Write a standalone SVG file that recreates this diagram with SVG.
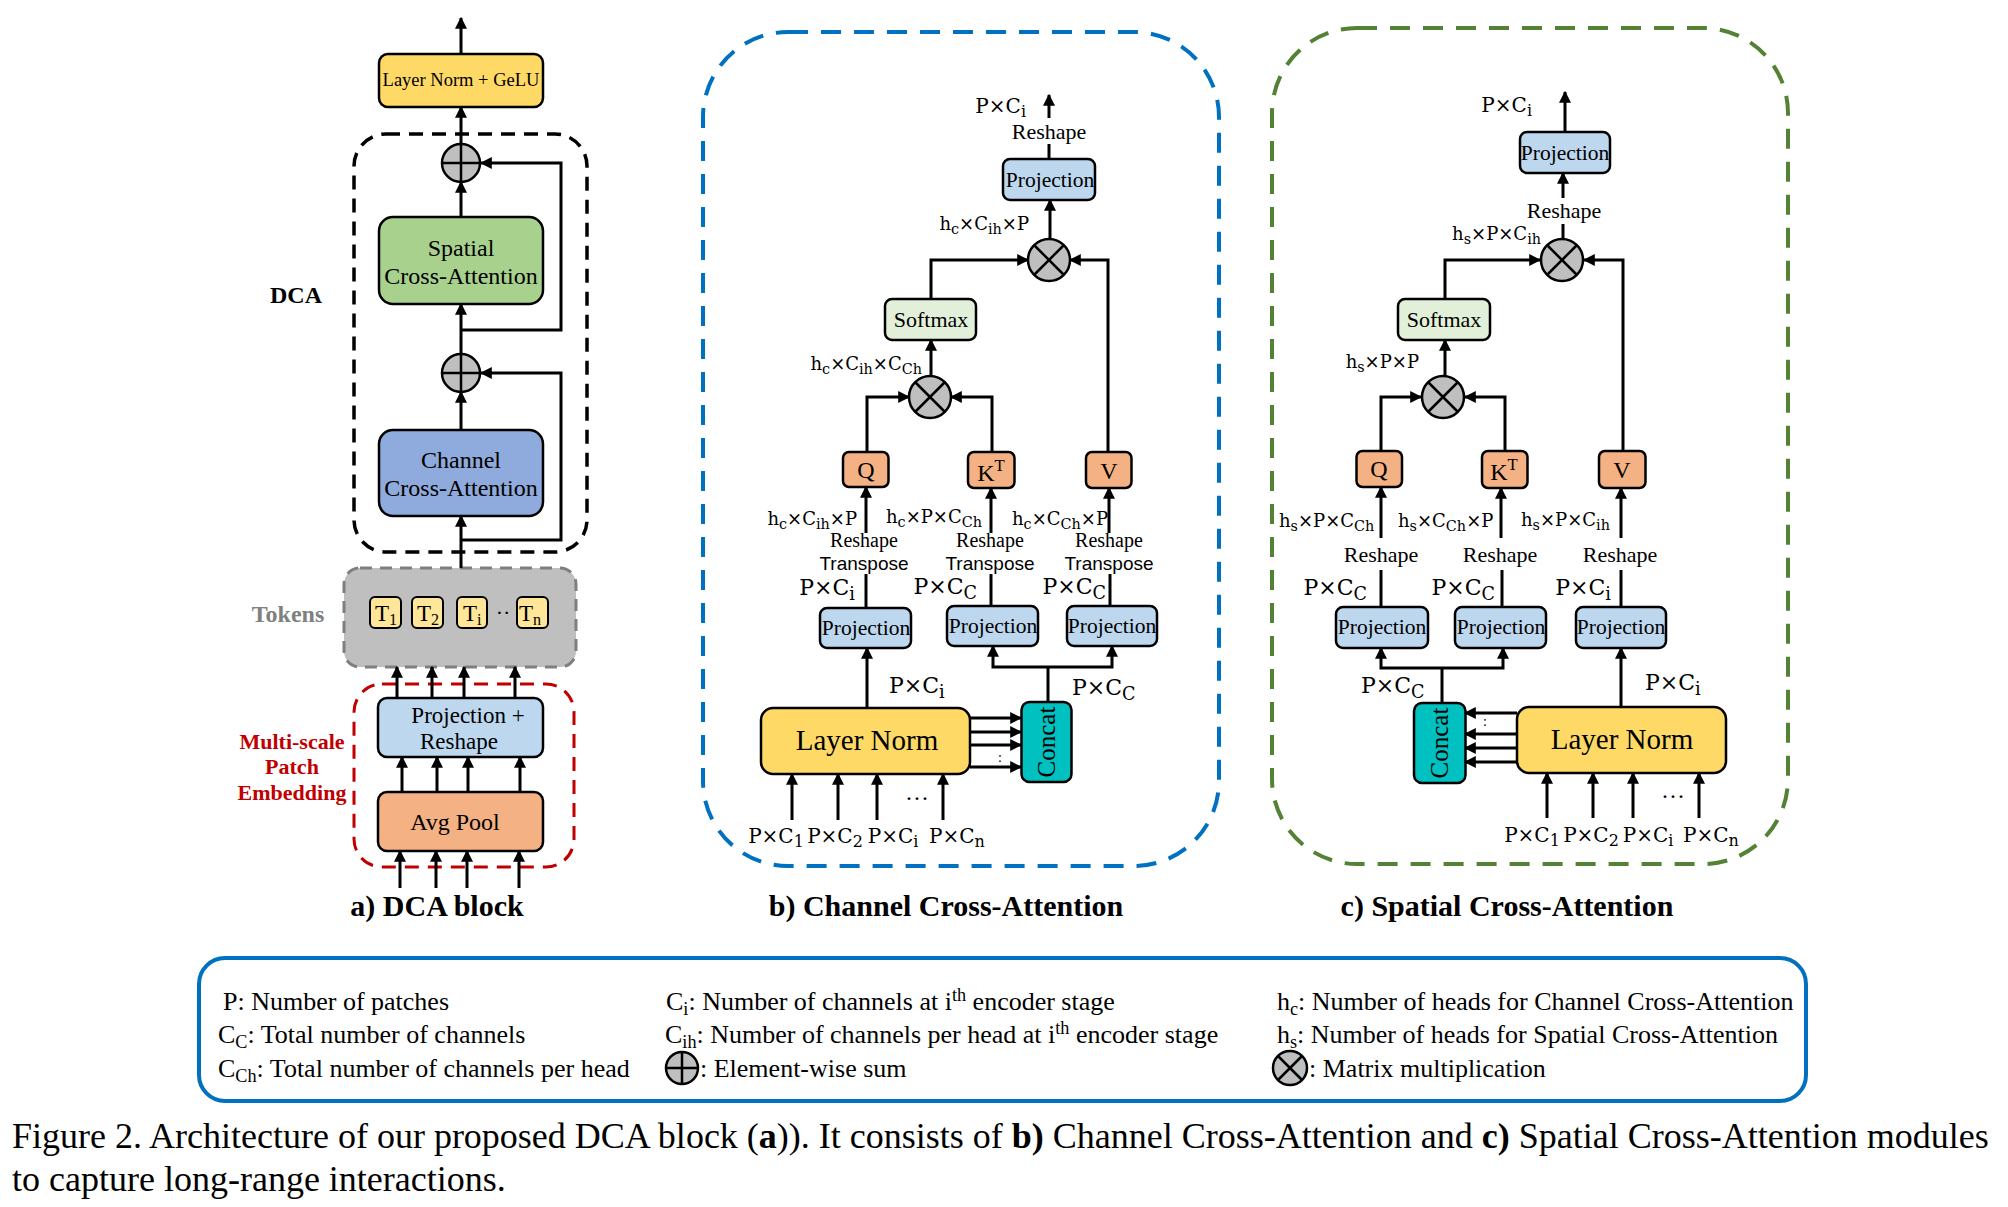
<svg xmlns="http://www.w3.org/2000/svg" width="2008" height="1207" viewBox="0 0 2008 1207">
<defs>
<marker id="ah" viewBox="0 0 10 10" refX="9" refY="5" markerWidth="12" markerHeight="12" markerUnits="userSpaceOnUse" orient="auto">
<path d="M0,0 L10,5 L0,10 z" fill="#000"/>
</marker>
<style>
.t{font-family:"Liberation Serif","Times New Roman",serif;fill:#000}
.m{font-family:"DejaVu Serif","Liberation Serif",serif;fill:#000}
.sans{font-family:"Liberation Sans",Arial,sans-serif;fill:#000}
.b{font-weight:bold}
.box{stroke:#000;stroke-width:2.5}
.ln{fill:#FFD966}
.proj{fill:#BDD7EE}
.org{fill:#F4B183}
.soft{fill:#E2F0D9}
.cat{fill:#00C0C0}
.tok{fill:#FFE699;stroke:#000;stroke-width:2}
.c{fill:none;stroke:#000;stroke-width:3}
.a{fill:none;stroke:#000;stroke-width:3;marker-end:url(#ah)}
.op{fill:#BFBFBF;stroke:#000;stroke-width:2.5}
.opl{stroke:#000;stroke-width:2.5}
.s{font-size:70%}
.ms{font-size:80%}
</style>
</defs>
<rect width="2008" height="1207" fill="#fff"/>

<!-- ===== Panel a ===== -->
<g id="dca-frame"><rect x="354" y="134" width="233" height="418" rx="32" fill="none" stroke="#000" stroke-width="3.5" stroke-dasharray="14 9"/></g>
<g id="dca-label"><text class="t b" x="296" y="303" font-size="24" text-anchor="middle">DCA</text></g>
<g id="ln-gelu"><rect class="box ln" x="379" y="54" width="164" height="53" rx="9"/><text class="t" x="461" y="86" font-size="18.5" text-anchor="middle">Layer Norm + GeLU</text></g>
<g id="sum1"><circle class="op" cx="461" cy="163" r="19"/><line class="opl" x1="442" y1="163" x2="480" y2="163"/><line class="opl" x1="461" y1="144" x2="461" y2="182"/></g>
<g id="spatial-ca"><rect class="box" fill="#A9D18E" x="379" y="217" width="164" height="87" rx="14"/><text class="t" x="461" y="256" font-size="24" text-anchor="middle">Spatial</text><text class="t" x="461" y="284" font-size="24" text-anchor="middle">Cross-Attention</text></g>
<g id="sum2"><circle class="op" cx="461" cy="373" r="19"/><line class="opl" x1="442" y1="373" x2="480" y2="373"/><line class="opl" x1="461" y1="354" x2="461" y2="392"/></g>
<g id="channel-ca"><rect class="box" fill="#8FAADC" x="379" y="430" width="164" height="86" rx="14"/><text class="t" x="461" y="468" font-size="24" text-anchor="middle">Channel</text><text class="t" x="461" y="496" font-size="24" text-anchor="middle">Cross-Attention</text></g>
<g id="tokens"><rect x="344" y="568" width="232" height="99" rx="16" fill="#BFBFBF" stroke="#7F7F7F" stroke-width="3" stroke-dasharray="12 8"/>
<text class="t b" x="288" y="622" font-size="24" text-anchor="middle" style="fill:#808080">Tokens</text>
<rect class="tok" x="370" y="597" width="31" height="31" rx="5"/><text class="t" x="375" y="621" font-size="23">T<tspan class="s" dy="4">1</tspan></text>
<rect class="tok" x="412" y="597" width="31" height="31" rx="5"/><text class="t" x="417" y="621" font-size="23">T<tspan class="s" dy="4">2</tspan></text>
<rect class="tok" x="457" y="597" width="30" height="31" rx="5"/><text class="t" x="463" y="621" font-size="23">T<tspan class="s" dy="4">i</tspan></text>
<text class="t" x="503" y="620" font-size="22" text-anchor="middle">··</text>
<rect class="tok" x="517" y="597" width="31" height="31" rx="5"/><text class="t" x="519" y="621" font-size="23">T<tspan class="s" dy="4">n</tspan></text></g>
<g id="mspe-frame"><rect x="354" y="684" width="220" height="183" rx="28" fill="none" stroke="#C00000" stroke-width="3" stroke-dasharray="14 9"/>
<text class="t b" x="292" y="749" font-size="22" text-anchor="middle" style="fill:#C00000">Multi-scale</text>
<text class="t b" x="292" y="774" font-size="22" text-anchor="middle" style="fill:#C00000">Patch</text>
<text class="t b" x="292" y="800" font-size="22" text-anchor="middle" style="fill:#C00000">Embedding</text></g>
<g id="proj-reshape"><rect class="box proj" x="378" y="698" width="165" height="59" rx="9"/><text class="t" x="468" y="723" font-size="23" text-anchor="middle">Projection +</text><text class="t" x="459" y="749" font-size="23" text-anchor="middle">Reshape</text></g>
<g id="avgpool"><rect class="box org" x="378" y="792" width="165" height="59" rx="9"/><text class="t" x="455" y="830" font-size="24" text-anchor="middle">Avg Pool</text></g>
<text class="t b" x="437" y="916" font-size="30" text-anchor="middle">a) DCA block</text>

<!-- ===== Panel b ===== -->
<g id="cca-frame"><rect x="703" y="32" width="516" height="834" rx="85" fill="none" stroke="#0070C0" stroke-width="4" stroke-dasharray="20 13"/></g>
<g id="b-proj-out"><rect class="box proj" x="1003" y="159" width="92" height="41" rx="7"/><text class="t" x="1050" y="187" font-size="21.5" text-anchor="middle">Projection</text></g>
<g id="b-mult1"><circle class="op" cx="1049" cy="260" r="21"/><line class="opl" x1="1034" y1="245" x2="1064" y2="275"/><line class="opl" x1="1064" y1="245" x2="1034" y2="275"/></g>
<g id="b-softmax"><rect class="box soft" x="885" y="299" width="91" height="41" rx="7"/><text class="t" x="931" y="327" font-size="22" text-anchor="middle">Softmax</text></g>
<g id="b-mult2"><circle class="op" cx="930" cy="397" r="21"/><line class="opl" x1="915" y1="382" x2="945" y2="412"/><line class="opl" x1="945" y1="382" x2="915" y2="412"/></g>
<g id="b-q"><rect class="box org" x="843" y="452" width="45.5" height="35" rx="6"/><text class="t" x="866" y="478" font-size="24" text-anchor="middle">Q</text></g>
<g id="b-k"><rect class="box org" x="968" y="452" width="46.5" height="36" rx="6"/><text class="t" x="991" y="481" font-size="24" text-anchor="middle">K<tspan class="s" dy="-10">T</tspan></text></g>
<g id="b-v"><rect class="box org" x="1086" y="452" width="45.5" height="36" rx="6"/><text class="t" x="1109" y="479" font-size="24" text-anchor="middle">V</text></g>
<g id="b-proj-q"><rect class="box proj" x="820" y="608" width="91" height="40" rx="7"/><text class="t" x="866" y="635" font-size="21.5" text-anchor="middle">Projection</text></g>
<g id="b-proj-k"><rect class="box proj" x="947" y="606" width="91" height="40" rx="7"/><text class="t" x="993" y="633" font-size="21.5" text-anchor="middle">Projection</text></g>
<g id="b-proj-v"><rect class="box proj" x="1067" y="606" width="90" height="40" rx="7"/><text class="t" x="1112" y="633" font-size="21.5" text-anchor="middle">Projection</text></g>
<g id="b-layernorm"><rect class="box ln" x="761" y="708" width="209" height="66" rx="12"/><text class="t" x="867" y="750" font-size="29" text-anchor="middle">Layer Norm</text></g>
<g id="b-concat"><rect class="box cat" x="1021.5" y="702" width="50" height="80" rx="8"/><text class="t" transform="translate(1055,742) rotate(-90)" font-size="25" text-anchor="middle">Concat</text></g>
<g id="b-labels">
<text class="m" x="1026" y="113" font-size="20" text-anchor="end">P×C<tspan class="ms" dy="4">i</tspan></text>
<text class="t" x="1049" y="139" font-size="22" text-anchor="middle">Reshape</text>
<text class="m" x="1029" y="230" font-size="18" text-anchor="end">h<tspan class="ms" dy="4">c</tspan><tspan dy="-4">×C</tspan><tspan class="ms" dy="4">ih</tspan><tspan dy="-4">×P</tspan></text>
<text class="m" x="922" y="370" font-size="18" text-anchor="end">h<tspan class="ms" dy="4">c</tspan><tspan dy="-4">×C</tspan><tspan class="ms" dy="4">ih</tspan><tspan dy="-4">×C</tspan><tspan class="ms" dy="4">Ch</tspan></text>
<text class="m" x="857" y="525" font-size="18" text-anchor="end">h<tspan class="ms" dy="4">c</tspan><tspan dy="-4">×C</tspan><tspan class="ms" dy="4">ih</tspan><tspan dy="-4">×P</tspan></text>
<text class="m" x="886" y="523" font-size="18">h<tspan class="ms" dy="4">c</tspan><tspan dy="-4">×P×C</tspan><tspan class="ms" dy="4">Ch</tspan></text>
<text class="m" x="1012" y="525" font-size="18">h<tspan class="ms" dy="4">c</tspan><tspan dy="-4">×C</tspan><tspan class="ms" dy="4">Ch</tspan><tspan dy="-4">×P</tspan></text>
<text class="t" x="864" y="547" font-size="20" text-anchor="middle">Reshape</text>
<text class="sans" x="864" y="570" font-size="19" text-anchor="middle">Transpose</text>
<text class="t" x="990" y="547" font-size="20" text-anchor="middle">Reshape</text>
<text class="sans" x="990" y="570" font-size="19" text-anchor="middle">Transpose</text>
<text class="t" x="1109" y="547" font-size="20" text-anchor="middle">Reshape</text>
<text class="sans" x="1109" y="570" font-size="19" text-anchor="middle">Transpose</text>
<text class="m" x="855" y="595" font-size="22" text-anchor="end">P×C<tspan class="ms" dy="5">i</tspan></text>
<text class="m" x="977" y="594" font-size="22" text-anchor="end">P×C<tspan class="ms" dy="5">C</tspan></text>
<text class="m" x="1106" y="594" font-size="22" text-anchor="end">P×C<tspan class="ms" dy="5">C</tspan></text>
<text class="m" x="889" y="693" font-size="22">P×C<tspan class="ms" dy="5">i</tspan></text>
<text class="m" x="1072" y="695" font-size="22">P×C<tspan class="ms" dy="5">C</tspan></text>
<text class="t" x="1000" y="762" font-size="14" text-anchor="middle">:</text>
<text class="t" x="917" y="806" font-size="24" text-anchor="middle">···</text>
<text class="m" x="776" y="843" font-size="20" text-anchor="middle">P×C<tspan class="ms" dy="4">1</tspan></text>
<text class="m" x="835" y="843" font-size="20" text-anchor="middle">P×C<tspan class="ms" dy="4">2</tspan></text>
<text class="m" x="893" y="843" font-size="20" text-anchor="middle">P×C<tspan class="ms" dy="4">i</tspan></text>
<text class="m" x="957" y="843" font-size="20" text-anchor="middle">P×C<tspan class="ms" dy="4">n</tspan></text>
</g>
<text class="t b" x="946" y="916" font-size="30" text-anchor="middle">b) Channel Cross-Attention</text>

<!-- ===== Panel c ===== -->
<g id="sca-frame"><rect x="1272" y="28" width="516" height="836" rx="85" fill="none" stroke="#548235" stroke-width="4" stroke-dasharray="20 13"/></g>
<g id="c-proj-out"><rect class="box proj" x="1520" y="132" width="90" height="41" rx="7"/><text class="t" x="1565" y="160" font-size="21.5" text-anchor="middle">Projection</text></g>
<g id="c-mult1"><circle class="op" cx="1562" cy="260" r="21"/><line class="opl" x1="1547" y1="245" x2="1577" y2="275"/><line class="opl" x1="1577" y1="245" x2="1547" y2="275"/></g>
<g id="c-softmax"><rect class="box soft" x="1398" y="299" width="92" height="41" rx="7"/><text class="t" x="1444" y="327" font-size="22" text-anchor="middle">Softmax</text></g>
<g id="c-mult2"><circle class="op" cx="1443" cy="397" r="21"/><line class="opl" x1="1428" y1="382" x2="1458" y2="412"/><line class="opl" x1="1458" y1="382" x2="1428" y2="412"/></g>
<g id="c-q"><rect class="box org" x="1356.5" y="451" width="45.5" height="36" rx="6"/><text class="t" x="1379" y="477" font-size="24" text-anchor="middle">Q</text></g>
<g id="c-k"><rect class="box org" x="1482" y="451" width="45.5" height="37" rx="6"/><text class="t" x="1504" y="480" font-size="24" text-anchor="middle">K<tspan class="s" dy="-10">T</tspan></text></g>
<g id="c-v"><rect class="box org" x="1599" y="451" width="46.5" height="37" rx="6"/><text class="t" x="1622" y="478" font-size="24" text-anchor="middle">V</text></g>
<g id="c-proj-q"><rect class="box proj" x="1336" y="607" width="92" height="41" rx="7"/><text class="t" x="1382" y="634" font-size="21.5" text-anchor="middle">Projection</text></g>
<g id="c-proj-k"><rect class="box proj" x="1455" y="607" width="91" height="41" rx="7"/><text class="t" x="1501" y="634" font-size="21.5" text-anchor="middle">Projection</text></g>
<g id="c-proj-v"><rect class="box proj" x="1576" y="607" width="90" height="41" rx="7"/><text class="t" x="1621" y="634" font-size="21.5" text-anchor="middle">Projection</text></g>
<g id="c-concat"><rect class="box cat" x="1414" y="703" width="51.5" height="80" rx="8"/><text class="t" transform="translate(1448,743) rotate(-90)" font-size="25" text-anchor="middle">Concat</text></g>
<g id="c-layernorm"><rect class="box ln" x="1517" y="707" width="209" height="66" rx="12"/><text class="t" x="1622" y="749" font-size="29" text-anchor="middle">Layer Norm</text></g>
<g id="c-labels">
<text class="m" x="1532" y="112" font-size="20" text-anchor="end">P×C<tspan class="ms" dy="4">i</tspan></text>
<text class="t" x="1564" y="218" font-size="22" text-anchor="middle">Reshape</text>
<text class="m" x="1541" y="240" font-size="18" text-anchor="end">h<tspan class="ms" dy="4">s</tspan><tspan dy="-4">×P×C</tspan><tspan class="ms" dy="4">ih</tspan></text>
<text class="m" x="1419" y="368" font-size="18" text-anchor="end">h<tspan class="ms" dy="4">s</tspan><tspan dy="-4">×P×P</tspan></text>
<text class="m" x="1279" y="527" font-size="18">h<tspan class="ms" dy="4">s</tspan><tspan dy="-4">×P×C</tspan><tspan class="ms" dy="4">Ch</tspan></text>
<text class="m" x="1398" y="527" font-size="18">h<tspan class="ms" dy="4">s</tspan><tspan dy="-4">×C</tspan><tspan class="ms" dy="4">Ch</tspan><tspan dy="-4">×P</tspan></text>
<text class="m" x="1521" y="526" font-size="18">h<tspan class="ms" dy="4">s</tspan><tspan dy="-4">×P×C</tspan><tspan class="ms" dy="4">ih</tspan></text>
<text class="t" x="1381" y="562" font-size="22" text-anchor="middle">Reshape</text>
<text class="t" x="1500" y="562" font-size="22" text-anchor="middle">Reshape</text>
<text class="t" x="1620" y="562" font-size="22" text-anchor="middle">Reshape</text>
<text class="m" x="1367" y="595" font-size="22" text-anchor="end">P×C<tspan class="ms" dy="5">C</tspan></text>
<text class="m" x="1495" y="595" font-size="22" text-anchor="end">P×C<tspan class="ms" dy="5">C</tspan></text>
<text class="m" x="1611" y="595" font-size="22" text-anchor="end">P×C<tspan class="ms" dy="5">i</tspan></text>
<text class="m" x="1361" y="693" font-size="22">P×C<tspan class="ms" dy="5">C</tspan></text>
<text class="m" x="1645" y="690" font-size="22">P×C<tspan class="ms" dy="5">i</tspan></text>
<text class="t" x="1485" y="726" font-size="14" text-anchor="middle">:</text>
<text class="t" x="1673" y="804" font-size="24" text-anchor="middle">···</text>
<text class="m" x="1532" y="842" font-size="20" text-anchor="middle">P×C<tspan class="ms" dy="4">1</tspan></text>
<text class="m" x="1591" y="842" font-size="20" text-anchor="middle">P×C<tspan class="ms" dy="4">2</tspan></text>
<text class="m" x="1648" y="842" font-size="20" text-anchor="middle">P×C<tspan class="ms" dy="4">i</tspan></text>
<text class="m" x="1711" y="842" font-size="20" text-anchor="middle">P×C<tspan class="ms" dy="4">n</tspan></text>
</g>
<text class="t b" x="1507" y="916" font-size="30" text-anchor="middle">c) Spatial Cross-Attention</text>

<!-- ===== Connectors ===== -->
<g id="connectors">
<!-- panel a -->
<line class="a" x1="461" y1="54" x2="461" y2="18"/>
<line class="a" x1="461" y1="144" x2="461" y2="107"/>
<line class="a" x1="461" y1="217" x2="461" y2="182"/>
<polyline class="a" points="461,330 561,330 561,163 481,163"/>
<line class="a" x1="461" y1="354" x2="461" y2="304"/>
<line class="a" x1="461" y1="430" x2="461" y2="392"/>
<polyline class="a" points="461,540 561,540 561,373 481,373"/>
<line class="a" x1="461" y1="568" x2="461" y2="516"/>
<line class="a" x1="397" y1="698" x2="397" y2="667"/>
<line class="a" x1="432" y1="698" x2="432" y2="667"/>
<line class="a" x1="464" y1="698" x2="464" y2="667"/>
<line class="a" x1="515" y1="698" x2="515" y2="667"/>
<line class="a" x1="402" y1="792" x2="402" y2="757"/>
<line class="a" x1="437" y1="792" x2="437" y2="757"/>
<line class="a" x1="468" y1="792" x2="468" y2="757"/>
<line class="a" x1="520" y1="792" x2="520" y2="757"/>
<line class="a" x1="400" y1="888" x2="400" y2="851"/>
<line class="a" x1="436" y1="888" x2="436" y2="851"/>
<line class="a" x1="467" y1="888" x2="467" y2="851"/>
<line class="a" x1="519" y1="888" x2="519" y2="851"/>
<!-- panel b -->
<line class="a" x1="1049" y1="118" x2="1049" y2="95"/>
<line class="c" x1="1049" y1="159" x2="1049" y2="144"/>
<line class="a" x1="1050" y1="239" x2="1050" y2="200"/>
<polyline class="a" points="931,299 931,260 1028,260"/>
<polyline class="a" points="1108,452 1108,260 1070,260"/>
<line class="a" x1="931" y1="376" x2="931" y2="340"/>
<polyline class="a" points="867,452 867,397 909,397"/>
<polyline class="a" points="992,452 992,397 951,397"/>
<line class="a" x1="866" y1="533" x2="866" y2="487"/>
<line class="a" x1="991" y1="533" x2="991" y2="488"/>
<line class="a" x1="1109" y1="533" x2="1109" y2="488"/>
<line class="c" x1="866" y1="608" x2="866" y2="574"/>
<line class="c" x1="991" y1="606" x2="991" y2="574"/>
<line class="c" x1="1110" y1="606" x2="1110" y2="574"/>
<line class="a" x1="867" y1="708" x2="867" y2="648"/>
<line class="c" x1="1048" y1="702" x2="1048" y2="667"/>
<polyline class="a" points="1048,667 993,667 993,646"/>
<polyline class="a" points="1048,667 1112,667 1112,646"/>
<line class="a" x1="970" y1="718" x2="1021" y2="718"/>
<line class="a" x1="970" y1="732" x2="1021" y2="732"/>
<line class="a" x1="970" y1="745" x2="1021" y2="745"/>
<line class="a" x1="970" y1="767" x2="1021" y2="767"/>
<line class="a" x1="792" y1="820" x2="792" y2="774"/>
<line class="a" x1="838" y1="820" x2="838" y2="774"/>
<line class="a" x1="877" y1="820" x2="877" y2="774"/>
<line class="a" x1="943" y1="820" x2="943" y2="774"/>
<!-- panel c -->
<line class="a" x1="1565" y1="132" x2="1565" y2="92"/>
<line class="a" x1="1563" y1="198" x2="1563" y2="173"/>
<line class="c" x1="1563" y1="239" x2="1563" y2="224"/>
<polyline class="a" points="1445,299 1445,260 1540,260"/>
<polyline class="a" points="1623,451 1623,260 1584,260"/>
<line class="a" x1="1445" y1="376" x2="1445" y2="340"/>
<polyline class="a" points="1381,451 1381,397 1421,397"/>
<polyline class="a" points="1505,451 1505,397 1465,397"/>
<line class="a" x1="1381" y1="538" x2="1381" y2="487"/>
<line class="a" x1="1501" y1="538" x2="1501" y2="488"/>
<line class="a" x1="1621" y1="538" x2="1621" y2="488"/>
<line class="c" x1="1381" y1="607" x2="1381" y2="570"/>
<line class="c" x1="1502" y1="607" x2="1502" y2="570"/>
<line class="c" x1="1621" y1="607" x2="1621" y2="570"/>
<line class="c" x1="1442" y1="703" x2="1442" y2="668"/>
<polyline class="a" points="1442,668 1381,668 1381,648"/>
<polyline class="a" points="1442,668 1503,668 1503,648"/>
<line class="a" x1="1621" y1="707" x2="1621" y2="648"/>
<line class="a" x1="1517" y1="713" x2="1465" y2="713"/>
<line class="a" x1="1517" y1="734" x2="1465" y2="734"/>
<line class="a" x1="1517" y1="748" x2="1465" y2="748"/>
<line class="a" x1="1517" y1="762" x2="1465" y2="762"/>
<line class="a" x1="1547" y1="818" x2="1547" y2="773"/>
<line class="a" x1="1593" y1="818" x2="1593" y2="773"/>
<line class="a" x1="1633" y1="818" x2="1633" y2="773"/>
<line class="a" x1="1699" y1="818" x2="1699" y2="773"/>
</g>

<!-- ===== Legend ===== -->
<g id="legend">
<rect x="199" y="958" width="1607" height="143" rx="26" fill="none" stroke="#0070C0" stroke-width="4"/>
<text class="t" x="223" y="1010" font-size="26">P: Number of patches</text>
<text class="t" x="218" y="1043" font-size="26">C<tspan class="s" dy="5">C</tspan><tspan dy="-5">: Total number of channels</tspan></text>
<text class="t" x="218" y="1077" font-size="26">C<tspan class="s" dy="5">Ch</tspan><tspan dy="-5">: Total number of channels per head</tspan></text>
<text class="t" x="666" y="1010" font-size="26">C<tspan class="s" dy="5">i</tspan><tspan dy="-5">: Number of channels at i</tspan><tspan class="s" dy="-9">th</tspan><tspan dy="9"> encoder stage</tspan></text>
<text class="t" x="665" y="1043" font-size="26">C<tspan class="s" dy="5">ih</tspan><tspan dy="-5">: Number of channels per head at i</tspan><tspan class="s" dy="-9">th</tspan><tspan dy="9"> encoder stage</tspan></text>
<circle class="op" cx="682" cy="1068" r="16"/><line class="opl" x1="666" y1="1068" x2="698" y2="1068"/><line class="opl" x1="682" y1="1052" x2="682" y2="1084"/>
<text class="t" x="700" y="1077" font-size="26">: Element-wise sum</text>
<text class="t" x="1277" y="1010" font-size="26">h<tspan class="s" dy="5">c</tspan><tspan dy="-5">: Number of heads for Channel Cross-Attention</tspan></text>
<text class="t" x="1277" y="1043" font-size="26">h<tspan class="s" dy="5">s</tspan><tspan dy="-5">: Number of heads for Spatial Cross-Attention</tspan></text>
<circle class="op" cx="1290" cy="1068" r="17"/><line class="opl" x1="1278" y1="1056" x2="1302" y2="1080"/><line class="opl" x1="1302" y1="1056" x2="1278" y2="1080"/>
<text class="t" x="1309" y="1077" font-size="26">: Matrix multiplication</text>
</g>

<!-- ===== Caption ===== -->
<text class="t" x="12" y="1148" font-size="36">Figure 2. Architecture of our proposed DCA block (<tspan class="b">a</tspan>)). It consists of <tspan class="b">b)</tspan> Channel Cross-Attention and <tspan class="b">c)</tspan> Spatial Cross-Attention modules</text>
<text class="t" x="12" y="1191" font-size="36">to capture long-range interactions.</text>
</svg>
